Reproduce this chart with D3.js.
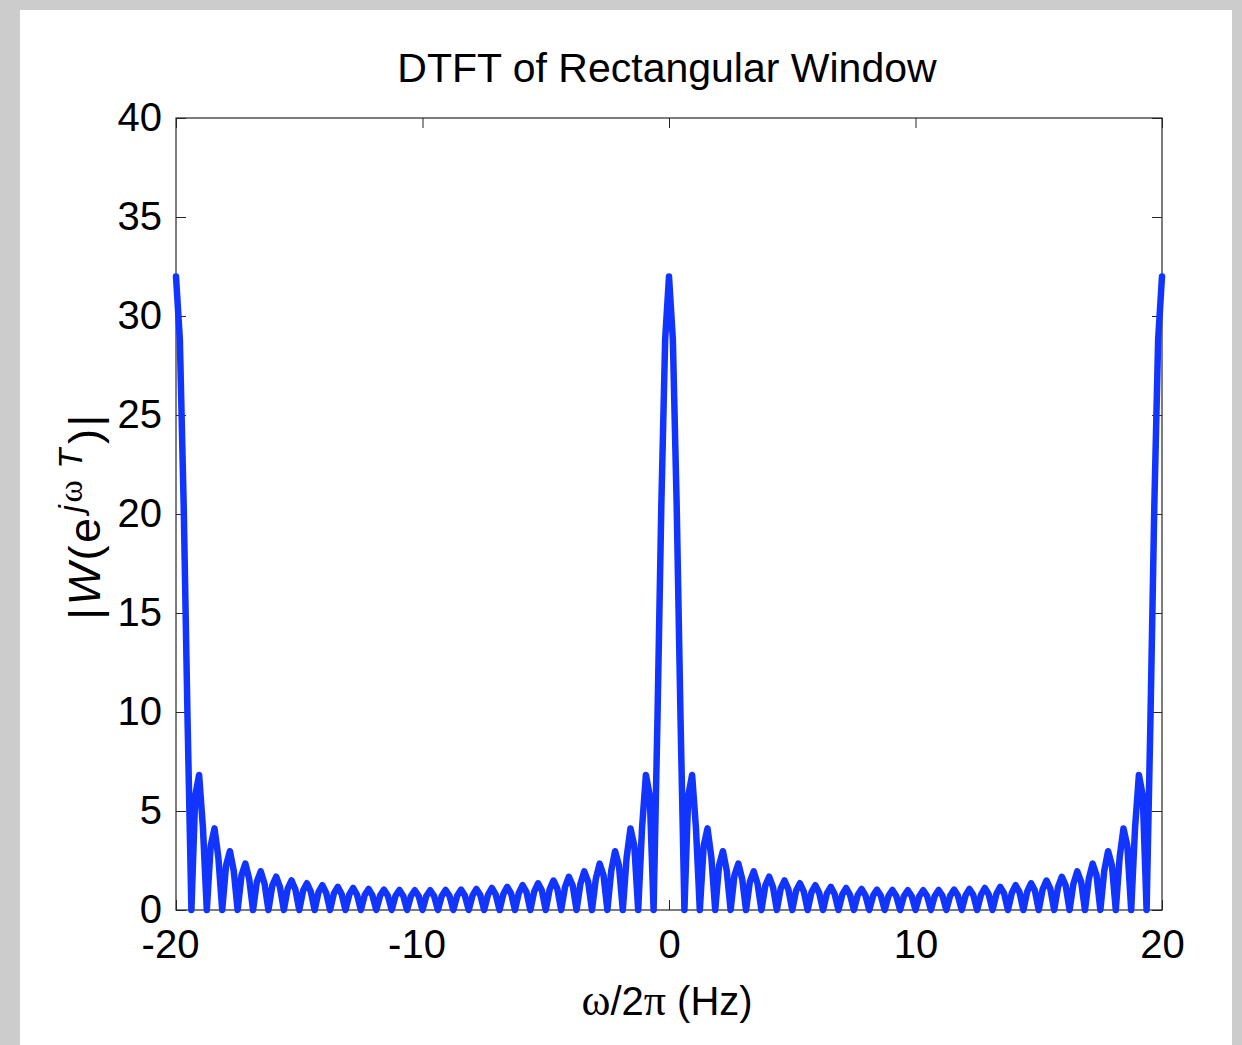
<!DOCTYPE html>
<html><head><meta charset="utf-8">
<script src="https://cdn.jsdelivr.net/npm/d3@7"></script>
<style>body{margin:0;background:#cccccc;} svg{display:block}</style>
</head><body>
<svg id="chart" width="1242" height="1045"></svg>
<script>
// ---- data ----
const chartTitle = "DTFT of Rectangular Window";
const xTicks = [-20, -10, 0, 10, 20];
const yTicks = [0, 5, 10, 15, 20, 25, 30, 35, 40];

const freqHz = [
 -20, -19.84375, -19.6875, -19.53125, -19.375, -19.21875, -19.0625, -18.90625,
 -18.75, -18.59375, -18.4375, -18.28125, -18.125, -17.96875, -17.8125, -17.65625,
 -17.5, -17.34375, -17.1875, -17.03125, -16.875, -16.71875, -16.5625, -16.40625,
 -16.25, -16.09375, -15.9375, -15.78125, -15.625, -15.46875, -15.3125, -15.15625,
 -15, -14.84375, -14.6875, -14.53125, -14.375, -14.21875, -14.0625, -13.90625,
 -13.75, -13.59375, -13.4375, -13.28125, -13.125, -12.96875, -12.8125, -12.65625,
 -12.5, -12.34375, -12.1875, -12.03125, -11.875, -11.71875, -11.5625, -11.40625,
 -11.25, -11.09375, -10.9375, -10.78125, -10.625, -10.46875, -10.3125, -10.15625,
 -10, -9.84375, -9.6875, -9.53125, -9.375, -9.21875, -9.0625, -8.90625,
 -8.75, -8.59375, -8.4375, -8.28125, -8.125, -7.96875, -7.8125, -7.65625,
 -7.5, -7.34375, -7.1875, -7.03125, -6.875, -6.71875, -6.5625, -6.40625,
 -6.25, -6.09375, -5.9375, -5.78125, -5.625, -5.46875, -5.3125, -5.15625,
 -5, -4.84375, -4.6875, -4.53125, -4.375, -4.21875, -4.0625, -3.90625,
 -3.75, -3.59375, -3.4375, -3.28125, -3.125, -2.96875, -2.8125, -2.65625,
 -2.5, -2.34375, -2.1875, -2.03125, -1.875, -1.71875, -1.5625, -1.40625,
 -1.25, -1.09375, -0.9375, -0.78125, -0.625, -0.46875, -0.3125, -0.15625,
 0, 0.15625, 0.3125, 0.46875, 0.625, 0.78125, 0.9375, 1.09375,
 1.25, 1.40625, 1.5625, 1.71875, 1.875, 2.03125, 2.1875, 2.34375,
 2.5, 2.65625, 2.8125, 2.96875, 3.125, 3.28125, 3.4375, 3.59375,
 3.75, 3.90625, 4.0625, 4.21875, 4.375, 4.53125, 4.6875, 4.84375,
 5, 5.15625, 5.3125, 5.46875, 5.625, 5.78125, 5.9375, 6.09375,
 6.25, 6.40625, 6.5625, 6.71875, 6.875, 7.03125, 7.1875, 7.34375,
 7.5, 7.65625, 7.8125, 7.96875, 8.125, 8.28125, 8.4375, 8.59375,
 8.75, 8.90625, 9.0625, 9.21875, 9.375, 9.53125, 9.6875, 9.84375,
 10, 10.15625, 10.3125, 10.46875, 10.625, 10.78125, 10.9375, 11.09375,
 11.25, 11.40625, 11.5625, 11.71875, 11.875, 12.03125, 12.1875, 12.34375,
 12.5, 12.65625, 12.8125, 12.96875, 13.125, 13.28125, 13.4375, 13.59375,
 13.75, 13.90625, 14.0625, 14.21875, 14.375, 14.53125, 14.6875, 14.84375,
 15, 15.15625, 15.3125, 15.46875, 15.625, 15.78125, 15.9375, 16.09375,
 16.25, 16.40625, 16.5625, 16.71875, 16.875, 17.03125, 17.1875, 17.34375,
 17.5, 17.65625, 17.8125, 17.96875, 18.125, 18.28125, 18.4375, 18.59375,
 18.75, 18.90625, 19.0625, 19.21875, 19.375, 19.53125, 19.6875, 19.84375,
 20
];

const magnitude = [
 32, 28.81, 20.38, 9.61, 0, 5.78, 6.82, 4.14, 0, 3.23, 4.12, 2.65, 0, 2.25, 2.97, 1.97,
 0, 1.75, 2.34, 1.57, 0, 1.43, 1.95, 1.32, 0, 1.23, 1.68, 1.15, 0, 1.08, 1.49, 1.03,
 0, 0.98, 1.35, 0.93, 0, 0.90, 1.25, 0.86, 0, 0.84, 1.17, 0.81, 0, 0.79, 1.11, 0.77,
 0, 0.76, 1.06, 0.74, 0, 0.73, 1.03, 0.72, 0, 0.72, 1.01, 0.71, 0, 0.71, 1.00, 0.71,
 0,
 0.71, 1.00, 0.71, 0, 0.71, 1.01, 0.72, 0, 0.72, 1.03, 0.73, 0, 0.74, 1.06, 0.76, 0,
 0.77, 1.11, 0.79, 0, 0.81, 1.17, 0.84, 0, 0.86, 1.25, 0.90, 0, 0.93, 1.35, 0.98, 0,
 1.03, 1.49, 1.08, 0, 1.15, 1.68, 1.23, 0, 1.32, 1.95, 1.43, 0, 1.57, 2.34, 1.75, 0,
 1.97, 2.97, 2.25, 0, 2.65, 4.12, 3.23, 0, 4.14, 6.82, 5.78, 0, 9.61, 20.38, 28.81, 32,
 28.81, 20.38, 9.61, 0, 5.78, 6.82, 4.14, 0, 3.23, 4.12, 2.65, 0, 2.25, 2.97, 1.97, 0,
 1.75, 2.34, 1.57, 0, 1.43, 1.95, 1.32, 0, 1.23, 1.68, 1.15, 0, 1.08, 1.49, 1.03, 0,
 0.98, 1.35, 0.93, 0, 0.90, 1.25, 0.86, 0, 0.84, 1.17, 0.81, 0, 0.79, 1.11, 0.77, 0,
 0.76, 1.06, 0.74, 0, 0.73, 1.03, 0.72, 0, 0.72, 1.01, 0.71, 0, 0.71, 1.00, 0.71, 0,
 0.71, 1.00, 0.71, 0, 0.71, 1.01, 0.72, 0, 0.72, 1.03, 0.73, 0, 0.74, 1.06, 0.76, 0,
 0.77, 1.11, 0.79, 0, 0.81, 1.17, 0.84, 0, 0.86, 1.25, 0.90, 0, 0.93, 1.35, 0.98, 0,
 1.03, 1.49, 1.08, 0, 1.15, 1.68, 1.23, 0, 1.32, 1.95, 1.43, 0, 1.57, 2.34, 1.75, 0,
 1.97, 2.97, 2.25, 0, 2.65, 4.12, 3.23, 0, 4.14, 6.82, 5.78, 0, 9.61, 20.38, 28.81, 32
];

// ---- drawing ----
const W = 1242, H = 1045;
const box = {left: 176, right: 1162, top: 118, bottom: 910};
const FONT = "'Liberation Sans', Arial, Helvetica, sans-serif";
const SERIF = "'Liberation Serif', 'Times New Roman', serif";
const lineColor = "rgb(18,52,255)";

const svg = d3.select("#chart");
svg.append("rect").attr("x", 0).attr("y", 0).attr("width", W).attr("height", H).attr("fill", "#cccccc");
svg.append("rect").attr("x", 20).attr("y", 10).attr("width", 1212).attr("height", H - 10).attr("fill", "#ffffff");

const x = d3.scaleLinear().domain([-20, 20]).range([box.left, box.right]);
const y = d3.scaleLinear().domain([0, 40]).range([box.bottom, box.top]);

const styleAxis = g => {
  g.select(".domain").remove();
  g.selectAll(".tick line").attr("stroke", "#262626").attr("stroke-width", 1);
  g.selectAll(".tick text").attr("fill", "#000").style("font-family", FONT).style("font-size", "40px");
};

svg.append("g").attr("transform", `translate(0,${box.bottom})`)
  .call(d3.axisBottom(x).tickValues(xTicks).tickSizeInner(-10).tickSizeOuter(0).tickPadding(20).tickFormat(d => String(d)))
  .call(styleAxis)
  .call(g => g.selectAll(".tick text").attr("dx", d => d < 0 ? -6 : 0));
svg.append("g").attr("transform", `translate(0,${box.top})`)
  .call(d3.axisTop(x).tickValues(xTicks).tickSizeInner(-10).tickSizeOuter(0).tickFormat(""))
  .call(styleAxis);
svg.append("g").attr("transform", `translate(${box.left},0)`)
  .call(d3.axisLeft(y).tickValues(yTicks).tickSizeInner(-10).tickSizeOuter(0).tickPadding(14).tickFormat(d => String(d)))
  .call(styleAxis);
svg.append("g").attr("transform", `translate(${box.right},0)`)
  .call(d3.axisRight(y).tickValues(yTicks).tickSizeInner(-10).tickSizeOuter(0).tickFormat(""))
  .call(styleAxis);

svg.append("rect")
  .attr("x", box.left).attr("y", box.top)
  .attr("width", box.right - box.left).attr("height", box.bottom - box.top)
  .attr("fill", "none").attr("stroke", "#262626").attr("stroke-width", 1.2);

const pts = freqHz.map((f, i) => [f, magnitude[i]]);
svg.append("path")
  .datum(pts)
  .attr("fill", "none")
  .attr("stroke", lineColor)
  .attr("stroke-width", 6.5)
  .attr("stroke-linejoin", "round")
  .attr("stroke-linecap", "round")
  .attr("d", d3.line().x(d => x(d[0])).y(d => y(d[1])));

// title
svg.append("text")
  .attr("x", (box.left + box.right) / 2 - 2).attr("y", 82)
  .attr("text-anchor", "middle")
  .style("font-family", FONT).style("font-size", "41px").attr("fill", "#000")
  .text(chartTitle);

// x label
const xl = svg.append("text")
  .attr("x", (box.left + box.right) / 2 - 2).attr("y", 1015)
  .attr("text-anchor", "middle")
  .style("font-family", FONT).style("font-size", "40px").attr("fill", "#000");
xl.append("tspan").style("font-family", SERIF).style("font-size", "44px").text("ω");
xl.append("tspan").text("/2");
xl.append("tspan").style("font-family", SERIF).style("font-size", "44px").text("π");
xl.append("tspan").text(" (Hz)");

// y label
const yl = svg.append("text")
  .attr("transform", `translate(100,516) rotate(-90)`)
  .attr("text-anchor", "middle")
  .style("font-family", FONT).style("font-size", "45px").style("letter-spacing", "2.5px").attr("fill", "#000");
yl.append("tspan").text("|");
yl.append("tspan").style("font-style", "italic").text("W");
yl.append("tspan").text("(e");
yl.append("tspan").attr("dy", -18).attr("dx", 3).style("font-size", "33px").style("font-style", "italic").text("j");
yl.append("tspan").style("font-size", "34px").style("font-family", SERIF).text("ω");
yl.append("tspan").attr("dx", 9).style("font-size", "33px").style("font-style", "italic").text("T");
yl.append("tspan").attr("dy", 18).attr("dx", 2).text(")|");
</script>
</body></html>
